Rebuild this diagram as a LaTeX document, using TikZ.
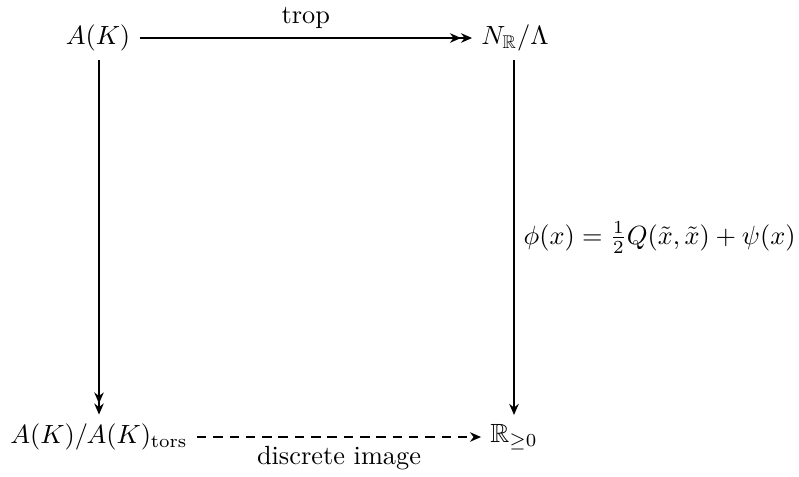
\documentclass[tikz,border=0pt]{standalone}
\usepackage{amsmath,amssymb}
\usepackage{tikz}
\usetikzlibrary{arrows.meta}

\begin{document}
\begin{tikzpicture}[x=0.38pt, y=-0.38pt, >={Stealth[length=4.2pt,width=3.6pt]},
    map/.style={line width=0.7pt}]
    % Fix the page size (units are reference pixels)
    \useasboundingbox (0,0) rectangle (799,476);

    % The four corners of the square
    \node(ak) at (98,38) {$A(K)$};
    \node(nr) at (515,38) {$N_{\mathbb{R}}/\Lambda$};
    \node(akt) at (99,437) {$A(K)/A(K)_{\mathrm{tors}}$};
    \node(rpos) at (514,437) {$\mathbb{R}_{\geq 0}$};

    % Top arrow: tropicalization
    \draw[->>, map] (ak) -- (nr)
        node[midway, above] {trop};

    % Left arrow (down to the quotient)
    \draw[->>, map] (ak.south -| akt.north) -- (akt);

    % Right arrow with the height function
    \draw[->, map] (nr.south -| rpos.north) -- (rpos)
        node[midway, right] {$\phi(x) = \frac{1}{2}Q(\tilde{x},\tilde{x}) + \psi(x)$};

    % Bottom arrow, dashed
    \draw[->, map, dash pattern=on 3.6pt off 2.6pt] (akt) -- (rpos)
        node[midway, below] {discrete image};

\end{tikzpicture}
\end{document}
